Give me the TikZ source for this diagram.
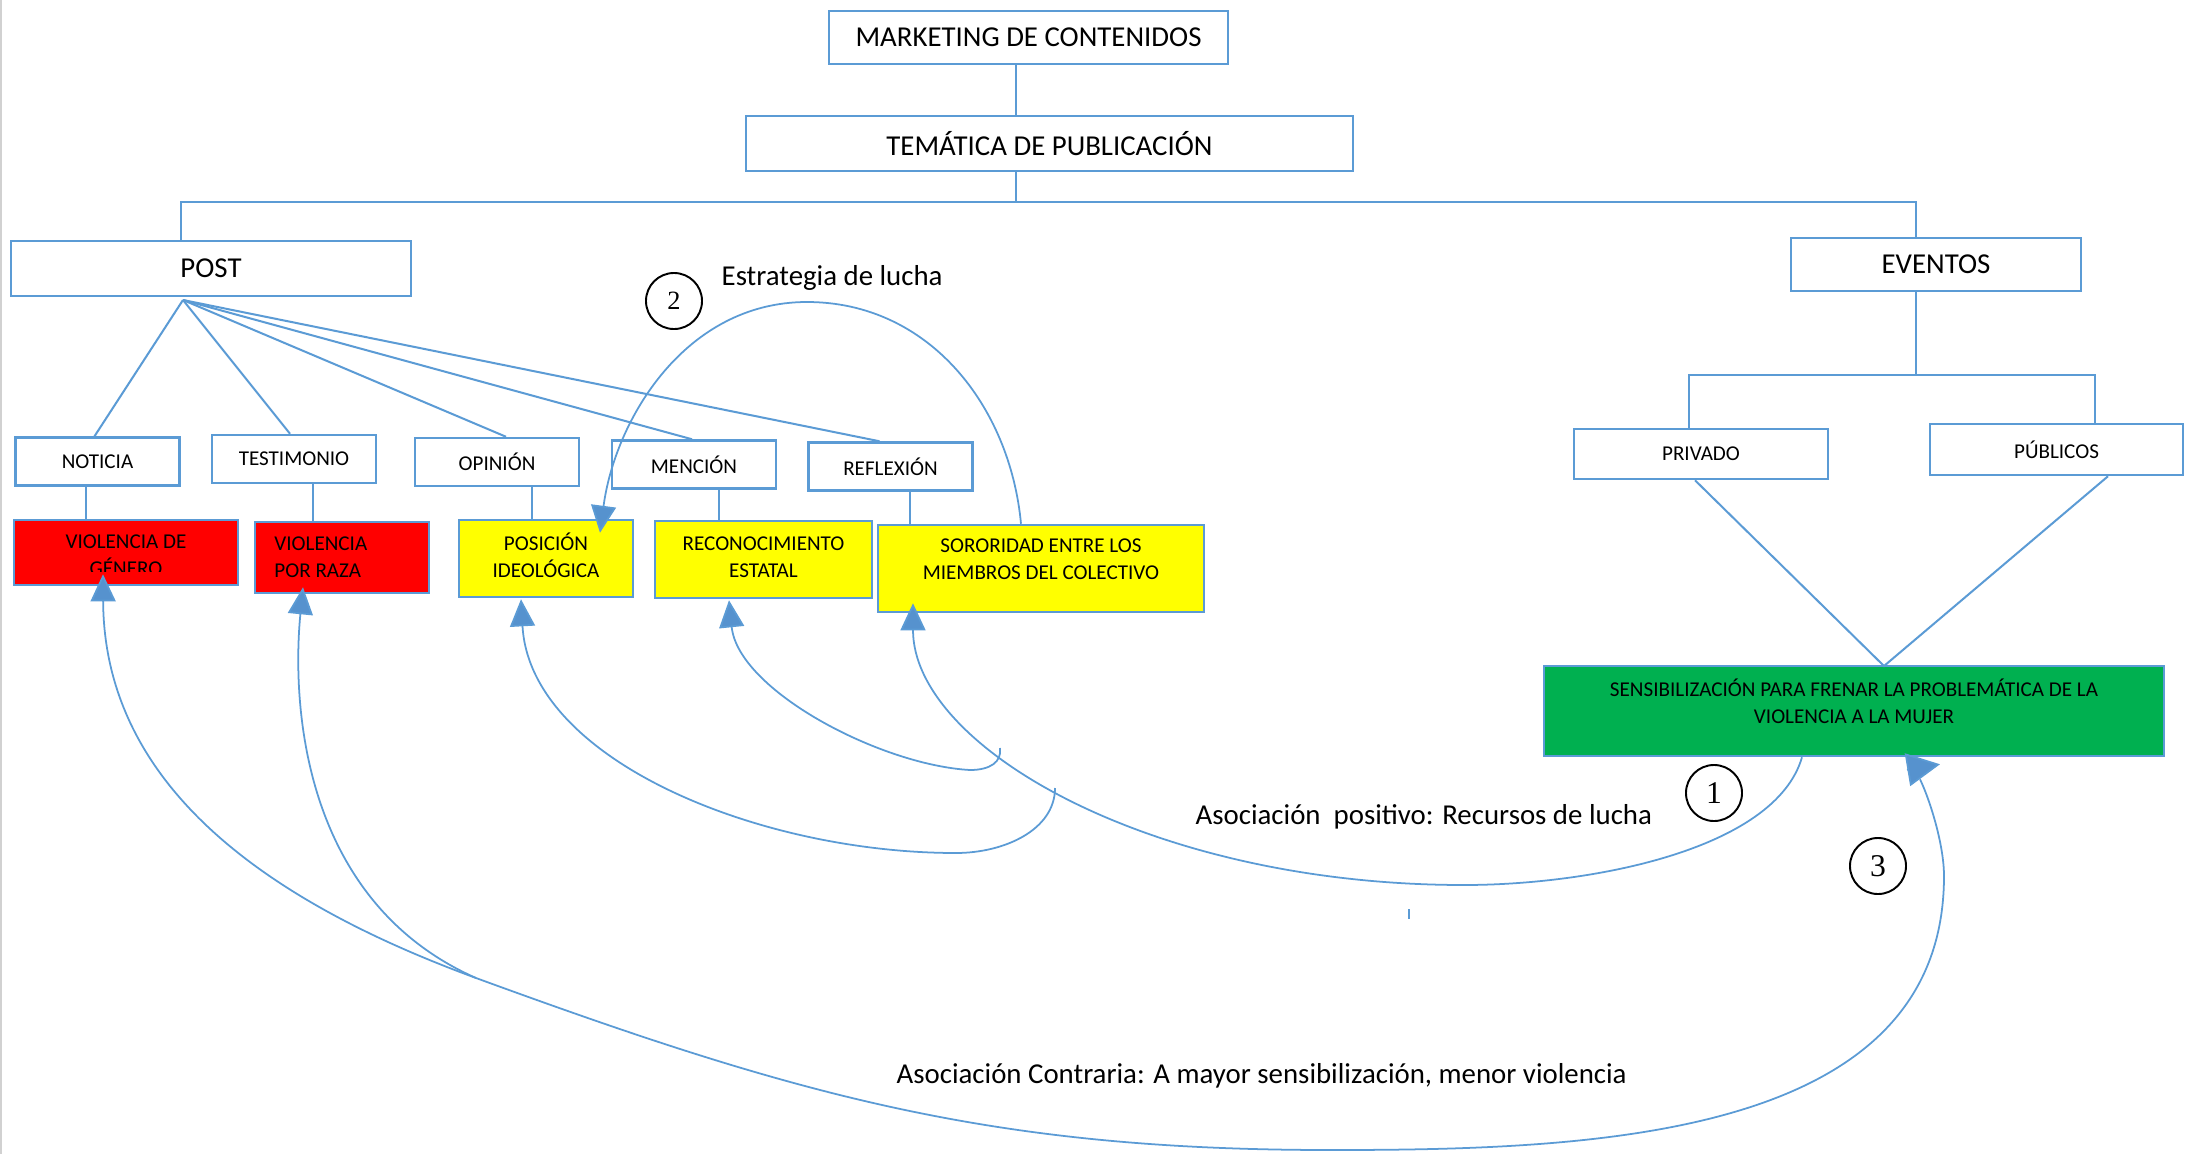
\documentclass[tikz,border=0pt]{standalone}
\usepackage{fontspec}
\setmainfont{Carlito}
\newfontfamily\cifra{Liberation Serif}
\usetikzlibrary{arrows.meta,calc}

\definecolor{lineblue}{RGB}{91,155,213}
\definecolor{arrowblue}{RGB}{86,146,206}
\definecolor{boxred}{RGB}{255,0,0}
\definecolor{boxyellow}{RGB}{255,255,0}
\definecolor{boxgreen}{RGB}{0,176,80}

\begin{document}
\begin{tikzpicture}[x=0.01cm,y=0.01cm]
        \tikzstyle{caja} = [draw=lineblue,line width=0.7pt,fill=white,inner sep=0pt]
        \tikzstyle{grande} = [caja,font=\fontsize{8.2}{9}\selectfont]
        \tikzstyle{chica} = [caja,font=\fontsize{6}{7}\selectfont]
        \tikzstyle{rojo} = [caja,fill=boxred]
        \tikzstyle{amarillo} = [caja,fill=boxyellow]
        \tikzstyle{verde} = [caja,fill=boxgreen]
        \tikzstyle{texto} = [font=\fontsize{6}{7.68}\selectfont,align=center,inner sep=0pt]
        \tikzstyle{enlace} = [draw=lineblue,line width=0.57pt]
        \tikzstyle{curva} = [draw=lineblue,line width=0.5pt]
        \tikzstyle{flecha} = [curva,-{Triangle[width=7.1pt,length=7.7pt,fill=arrowblue]}]
        \tikzstyle{numero} = [draw=black,circle,line width=0.55pt,minimum size=0.56cm,inner sep=0pt]
        \tikzstyle{etiqueta} = [font=\fontsize{8.2}{10}\selectfont,inner sep=0pt,anchor=base west]
        \useasboundingbox (0,0) rectangle (2196,-1154);
        \fill[white] (0,0) rectangle (2196,-1154);
        \draw[black!18,line width=0.6pt] (1,0) -- (1,-1154);

        % upper levels
        \node[grande,minimum width=3.99cm,minimum height=0.53cm] (mkt) at (1028.5,-37.5) {MARKETING DE CONTENIDOS};
        \node[grande,minimum width=6.07cm,minimum height=0.55cm] (tema) at (1049.5,-143.5) {TEMÁTICA DE PUBLICACIÓN};
        \node[grande,minimum width=4.00cm,minimum height=0.55cm] (post) at (211,-268.5) {POST};
        \node[grande,minimum width=2.90cm,minimum height=0.53cm] (eventos) at (1936,-264.5) {EVENTOS};

        % post types
        \foreach \n/\t/\x/\y in {noticia/NOTICIA/97.5/461.5, testimonio/TESTIMONIO/294/459,
            opinion/OPINIÓN/497/462, mencion/MENCIÓN/694/464.5, reflexion/REFLEXIÓN/890.5/466.5}
          \node[chica,minimum width=1.64cm,minimum height=0.48cm] (\n) at (\x,-\y) {\t};

        \node[rojo,minimum width=2.24cm,minimum height=0.65cm] (genero) at (126,-552.5) {};
        \node[rojo,minimum width=1.74cm,minimum height=0.71cm] (raza) at (342,-557.5) {};
        \node[amarillo,minimum width=1.74cm,minimum height=0.77cm] (posicion) at (546,-558.5) {};
        \node[amarillo,minimum width=2.17cm,minimum height=0.77cm] (reconoc) at (763.5,-559.5) {};
        \node[amarillo,minimum width=3.26cm,minimum height=0.87cm] (sororidad) at (1041,-568.5) {};
        \begin{scope}
          \clip (genero.north west) rectangle ($(genero.south east)+(0,15)$);
          \node[texto,anchor=base] at ($(genero.north)+(0,-57)$) {VIOLENCIA DE\\GÉNERO};
        \end{scope}
        \node[texto,align=left,anchor=base west] at ($(raza.north west)+(20,-57)$) {VIOLENCIA\\POR RAZA};
        \node[texto,anchor=base] at ($(posicion.north)+(0,-59)$) {POSICIÓN\\IDEOLÓGICA};
        \node[texto,anchor=base] at ($(reconoc.north)+(0,-58)$) {RECONOCIMIENTO\\ESTATAL};
        \node[texto,anchor=base] at ($(sororidad.north)+(0,-56)$) {SORORIDAD ENTRE LOS\\MIEMBROS DEL COLECTIVO};

        % events
        \node[chica,minimum width=2.54cm,minimum height=0.50cm] (privado) at (1701,-454) {PRIVADO};
        \node[chica,minimum width=2.53cm,minimum height=0.51cm] (publicos) at (2056.5,-449.5) {PÚBLICOS};
        \node[verde,minimum width=6.20cm,minimum height=0.90cm] (sensib) at (1854,-711) {};
        \node[texto,anchor=base] at ($(sensib.north)+(0,-59)$) {SENSIBILIZACIÓN PARA FRENAR LA PROBLEMÁTICA DE LA\\VIOLENCIA A LA MUJER};

        % tree lines
        \coordinate (c1) at (1016,-202);
        \coordinate (c2) at (181,-202);
        \coordinate (c3) at (1916,-202);
        \coordinate (e1) at (1689,-375);
        \coordinate (e2) at (2095,-375);
        \draw[enlace] (mkt.south -| c1) -- (tema.north -| c1);
        \draw[enlace] (tema.south -| c1) -- (c1);
        \draw[enlace] (post.north -| c2) -- (c2) -- (c3) -- (eventos.north -| c3);
        \draw[enlace] (eventos.south -| c3) -- (c3 |- e1);
        \draw[enlace] (privado.north -| e1) -- (e1) -- (e2) -- (publicos.north -| e2);
        \coordinate (pa) at (183,-300);
        \foreach \n/\dx in {noticia/-3, testimonio/-4, opinion/9, mencion/-2, reflexion/-11}
          \draw[enlace] (pa) -- ($(\n.north)+(\dx,0)$);
        \foreach \a/\b/\dx in {noticia/genero/-11.5, testimonio/raza/19, opinion/posicion/35,
            mencion/reconoc/25, reflexion/sororidad/19.5}{
          \coordinate (t) at ($(\a.south)+(\dx,0)$);
          \draw[enlace] (t) -- (t |- \b.north);
        }
        \coordinate (gtop) at (1884,-666);
        \draw[enlace] ($(privado.south)+(-6,0)$) -- (gtop) -- ($(publicos.south)+(51.5,0)$);

        % associations
        \coordinate (s1) at ($(sensib.south)+(-52,0)$);
        \coordinate (tipSor) at ($(sororidad.south)+(-128,10)$);
        \draw[flecha] (s1) .. controls (1775,-850) and (1590,-885) .. (1464,-885)
          .. controls (1151,-885) and (913,-747) .. (tipSor);
        \coordinate (h1) at (1000,-748);
        \coordinate (tipRec) at ($(reconoc.south)+(-34.5,-1)$);
        \draw[flecha] (h1) .. controls (1002,-762) and (990,-770) .. (970,-770)
          .. controls (880,-765) and (738,-690) .. (tipRec);
        \coordinate (h2) at (1055,-788);
        \coordinate (tipPos) at ($(posicion.south)+(-25,-1)$);
        \draw[flecha] (h2) .. controls (1055,-830) and (1004,-853) .. (956,-853)
          .. controls (759,-853) and (530,-760) .. (tipPos);

        \coordinate (s2) at ($(sororidad.north)+(-20,0)$);
        \coordinate (tipTop) at ($(posicion.north)+(54,-14)$);
        \draw[flecha] (s2) .. controls (1010,-406) and (929,-302) .. (807,-302)
          .. controls (685,-302) and (615,-420) .. (tipTop);

        \coordinate (tip3) at ($(sensib.south)+(86,-7)$);
        \draw[curva,-{Triangle[width=9.4pt,length=9.4pt,fill=arrowblue]}] ($(tip3)+(-33,-5.5)$) -- (tip3);
        \coordinate (s3) at ($(sensib.south)+(66,-22)$);
        \coordinate (m3) at (476,-978);
        \coordinate (tipGen) at ($(genero.south)+(-23,12)$);
        \draw[flecha] (s3) .. controls (1930,-800) and (1944,-845) .. (1944,-876)
          .. controls (1944,-1139) and (1593,-1150) .. (1330,-1150)
          .. controls (989,-1150) and (796,-1095) .. (m3)
          .. controls (274,-904) and (104,-790) .. (tipGen);
        \coordinate (tipRaza) at ($(raza.south)+(-39,7)$);
        \draw[flecha] (m3) .. controls (300,-900) and (292,-700) .. (tipRaza);
        \draw[enlace,line width=0.4pt] (1409,-909) -- (1409,-919);

        % labels
        \node[etiqueta] (lucha) at (721,-285) {Estrategia de lucha};
        \node[etiqueta] (positivo) at (1195,-824) {Asociación\ \ positivo: Recursos de lucha};
        \node[etiqueta] (contraria) at (896,-1083) {Asociación Contraria: A mayor sensibilización, menor violencia};
        \node[numero] (n2) at (674,-301) {\cifra\fontsize{7.5}{8}\selectfont 2};
        \node[numero] (n1) at (1714,-793) {\cifra\fontsize{9}{10}\selectfont 1};
        \node[numero] (n3) at (1878,-866) {\cifra\fontsize{9}{10}\selectfont 3};
\end{tikzpicture}
\end{document}
